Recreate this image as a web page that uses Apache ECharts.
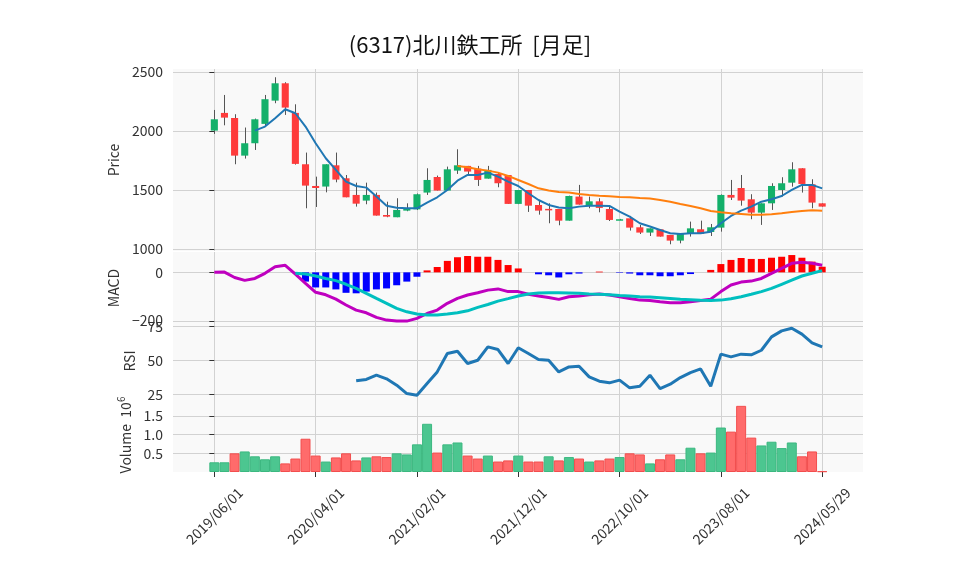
<!DOCTYPE html>
<html>
<head>
<meta charset="utf-8">
<title>(6317)北川鉄工所 [月足]</title>
<script src="https://cdn.jsdelivr.net/npm/echarts@6/dist/echarts.min.js"></script>
<style>
html, body { margin: 0; padding: 0; background: #fff; }
#chart { width: 958px; height: 575px; }
</style>
</head>
<body>
<div id="chart"></div>
<script>
// 月足データ (2019/06 〜 2024/05/29), index 0..60
var tickIndex = [0, 10, 20, 30, 40, 50, 60];
var tickLabels = ['2019/06/01', '2020/04/01', '2021/02/01', '2021/12/01', '2022/10/01', '2023/08/01', '2024/05/29'];

var openP = [2003,2153,2110,1791,1896,2060,2257,2404,2153,1718,
             1534,1529,1709,1599,1458,1410,1458,1288,1269,1325,
             1336,1478,1610,1495,1664,1704,1681,1596,1636,1627,
             1382,1500,1373,1340,1339,1240,1444,1370,1404,1339,
             1248,1260,1184,1139,1167,1119,1071,1127,1167,1144,
             1181,1458,1517,1421,1308,1387,1500,1562,1684,1548,
             1387];
var closeP = [2099,2113,1791,1896,2099,2269,2404,2198,1721,1537,
              1517,1718,1588,1438,1384,1458,1283,1274,1331,1345,
              1464,1585,1495,1675,1709,1656,1585,1670,1557,1382,
              1500,1367,1325,1335,1240,1449,1376,1404,1348,1246,
              1252,1181,1139,1175,1105,1071,1127,1175,1127,1184,
              1458,1435,1410,1308,1387,1534,1557,1675,1551,1393,
              1359];
var lowP = [1975,2048,1718,1766,1839,2050,2235,2136,1715,1345,
            1356,1480,1565,1438,1359,1379,1283,1269,1269,1320,
            1330,1458,1495,1495,1636,1627,1534,1596,1523,1382,
            1380,1314,1291,1218,1201,1240,1376,1345,1311,1237,
            1245,1156,1127,1110,1105,1040,1048,1105,1127,1110,
            1147,1415,1367,1252,1204,1331,1444,1528,1478,1345,
            1359];
var highP = [2178,2305,2142,2029,2105,2305,2455,2413,2226,1817,
             1613,1718,1817,1627,1562,1562,1478,1401,1430,1387,
             1470,1684,1622,1698,1845,1704,1704,1704,1647,1627,
             1500,1500,1415,1387,1339,1452,1543,1444,1430,1359,
             1255,1280,1204,1175,1167,1119,1127,1232,1240,1212,
             1462,1585,1627,1464,1387,1557,1608,1735,1684,1591,
             1387];

var ma5 = [null,null,null,null,2003,2037,2108,2184,2150,2037,
           1896,1769,1670,1571,1534,1520,1444,1367,1350,1345,
           1345,1393,1438,1500,1579,1627,1627,1647,1613,1571,
           1534,1472,1415,1373,1351,1345,1359,1367,1367,1365,
           1317,1274,1218,1190,1161,1133,1127,1133,1133,1147,
           1218,1280,1325,1359,1401,1421,1449,1500,1543,1543,
           1514];
var ma25 = [null,null,null,null,null,null,null,null,null,null,
            null,null,null,null,null,null,null,null,null,null,
            null,null,null,null,1704,1692,1675,1664,1647,1619,
            1585,1551,1514,1495,1483,1478,1466,1458,1452,1447,
            1441,1438,1432,1427,1415,1401,1382,1365,1345,1322,
            1311,1302,1297,1291,1291,1294,1302,1314,1322,1328,
            1325];

var macd = [0,1,-21,-33,-25,-4,23,29,-7,-45,
            -82,-92,-110,-134,-155,-166,-185,-196,-200,-200,
            -189,-169,-155,-127,-107,-93,-84,-73,-68,-79,
            -79,-90,-97,-103,-111,-100,-97,-92,-89,-93,
            -100,-107,-114,-116,-121,-125,-125,-121,-116,-110,
            -79,-52,-40,-36,-25,-4,16,37,41,37,
            29];
var signal = [null,null,null,null,null,null,null,null,-4,-7,
              -15,-25,-34,-49,-66,-86,-107,-127,-148,-162,
              -171,-175,-175,-171,-166,-158,-144,-132,-118,-108,
              -97,-89,-85,-84,-84,-85,-86,-89,-90,-92,
              -95,-97,-100,-101,-104,-107,-110,-112,-115,-116,
              -114,-108,-100,-90,-79,-66,-49,-32,-15,-4,
              7];
var hist = [null,null,null,null,null,null,null,null,-3,-38,
            -62,-62,-70,-84,-86,-79,-70,-66,-53,-38,
            -18,8,22,47,62,67,64,64,51,30,
            16,0,-8,-12,-21,-8,-5,0,3,0,
            -2,-5,-12,-12,-16,-16,-12,-7,0,10,
            34,51,59,55,55,60,64,71,60,44,
            23];

var rsi = [null,null,null,null,null,null,null,null,null,null,
           null,null,null,null,35.0,36.0,39.2,36.5,31.8,25.6,
           24.4,33.0,41.6,55.2,56.9,47.8,50.2,60.1,58.1,47.8,
           59.4,55.2,50.7,50.2,41.6,45.3,45.8,37.9,34.7,33.5,
           35.5,29.8,31.0,39.2,29.3,32.5,37.4,41.1,43.8,31.0,
           54.7,52.7,54.7,54.2,57.6,67.5,71.9,73.9,69.5,63.1,
           60.1];

var volume = [260000,260000,500000,550000,420000,340000,420000,230000,360000,890000,
              440000,280000,390000,500000,310000,390000,420000,400000,500000,470000,
              740000,1290000,520000,740000,790000,440000,360000,440000,280000,310000,
              440000,280000,280000,420000,310000,400000,360000,280000,310000,360000,
              400000,500000,470000,230000,340000,470000,340000,650000,500000,520000,
              1190000,1080000,1770000,920000,710000,810000,640000,790000,420000,550000,
              20000];

var upColor = '#13b06a', downColor = '#fe3b3b';
var textColor = '#333';
var fontName = 'Noto Sans CJK JP';

function pairs(arr) {
    var out = [];
    for (var i = 0; i < arr.length; i++) {
        if (arr[i] != null) out.push([i, arr[i]]);
    }
    return out;
}

var candleData = [];
for (var i = 0; i < closeP.length; i++) {
    candleData.push([i, openP[i], closeP[i], lowP[i], highP[i]]);
}

// 出来高: 前月終値比で色分け
var volData = [];
for (var i = 0; i < volume.length; i++) {
    var up = i === 0 || closeP[i] >= closeP[i - 1];
    volData.push({
        value: [i, volume[i]],
        itemStyle: up ? {color: '#4cc690', borderColor: '#3cb880'} : {color: '#ff6b6b', borderColor: '#f24e4e'}
    });
}

var histData = [];
for (var i = 0; i < hist.length; i++) {
    if (hist[i] == null) continue;
    histData.push({value: [i, hist[i]], itemStyle: {color: hist[i] >= 0 ? '#ff0000' : '#0000ff'}});
}

function renderCandle(params, api) {
    var x = api.value(0);
    var o = api.value(1), c = api.value(2);
    var pH = api.coord([x, api.value(4)]);
    var pL = api.coord([x, api.value(3)]);
    var pO = api.coord([x, o]);
    var pC = api.coord([x, c]);
    var w = api.size([0.7, 0])[0];
    var cx = Math.round(pH[0]) + 0.5;
    var top = Math.min(pO[1], pC[1]);
    var h = Math.max(Math.abs(pO[1] - pC[1]), 1.5);
    return {
        type: 'group',
        children: [
            {type: 'line', shape: {x1: cx, y1: pH[1], x2: cx, y2: pL[1]},
             style: {stroke: '#555', lineWidth: 1}},
            {type: 'rect', shape: {x: pH[0] - w / 2, y: top, width: w, height: h},
             style: {fill: c >= o ? upColor : downColor}}
        ]
    };
}

var xMin = -4.08, xMax = 64.03;
function makeX(gi, bottom) {
    return {
        type: 'value', gridIndex: gi, min: xMin, max: xMax,
        axisLine: {show: false},
        axisTick: {show: bottom, customValues: tickIndex, length: 5, lineStyle: {color: textColor}},
        axisLabel: {
            show: bottom, customValues: tickIndex, rotate: 45, align: 'center', verticalAlign: 'middle',
            margin: 44, fontSize: 14, color: textColor, fontFamily: fontName,
            formatter: function (v) {
                var k = tickIndex.indexOf(Math.round(v));
                return k < 0 ? '' : tickLabels[k];
            }
        },
        splitLine: {show: true, lineStyle: {color: '#d2d2d2', width: 1}}
    };
}

function makeY(gi, min, max, ticks, name, gap, fmt) {
    return {
        type: 'value', gridIndex: gi, min: min, max: max,
        name: name, nameLocation: 'middle', nameGap: gap,
        nameTextStyle: {fontSize: 14, color: textColor, fontFamily: fontName},
        axisLine: {show: false},
        axisTick: {show: true, customValues: ticks, length: 5, lineStyle: {color: textColor}},
        axisLabel: {customValues: ticks, margin: 10, fontSize: 14, color: textColor, fontFamily: fontName,
                    formatter: fmt || function (v) { return String(v); }},
        splitLine: {show: true, lineStyle: {color: '#d2d2d2', width: 1}}
    };
}

var gridBase = {left: 173, width: 690, show: true, backgroundColor: '#f9f9f9', borderWidth: 0};
function grid(top, height) {
    var g = Object.assign({}, gridBase);
    g.top = top;
    g.height = height;
    return g;
}

var myChart = echarts.init(document.getElementById('chart'), null, {renderer: 'canvas'});

var volYAxis = makeY(3, 0, 1980000, [500000, 1000000, 1500000], '{a|Volume  10}{b|6}', 37,
    function (v) { return (v / 1e6).toFixed(1); });
volYAxis.nameTextStyle.rich = {
    a: {fontSize: 14, color: textColor, fontFamily: fontName, lineHeight: 18},
    b: {fontSize: 10, color: textColor, fontFamily: fontName, verticalAlign: 'top', lineHeight: 18}
};

var option = {
    animation: false,
    backgroundColor: '#fff',
    textStyle: {fontFamily: fontName},
    graphic: [{
        type: 'text', x: 470, y: 45,
        style: {text: '(6317)北川鉄工所  [月足]', fontSize: 22, fill: '#111', fontFamily: fontName,
                align: 'center', verticalAlign: 'middle'}
    }],
    grid: [grid(69, 182), grid(252, 72), grid(324, 74), grid(398, 74)],
    xAxis: [makeX(0, false), makeX(1, false), makeX(2, false), makeX(3, true)],
    yAxis: [
        makeY(0, 983, 2525, [1000, 1500, 2000, 2500], 'Price', 50),
        makeY(1, -212, 83.5, [-200, 0], 'MACD', 50,
            function (v) { return v < 0 ? '\u2212' + Math.abs(v) : String(v); }),
        makeY(2, 22.3, 77, [25, 50, 75], 'RSI', 30),
        volYAxis
    ],
    series: [
        {
            name: 'candle', type: 'custom', xAxisIndex: 0, yAxisIndex: 0,
            renderItem: renderCandle, data: candleData,
            encode: {x: 0, y: [1, 2, 3, 4]}, clip: true, z: 3
        },
        {
            name: 'MA5', type: 'line', xAxisIndex: 0, yAxisIndex: 0, data: pairs(ma5),
            showSymbol: false, lineStyle: {color: '#1f77b4', width: 2}, z: 4
        },
        {
            name: 'MA25', type: 'line', xAxisIndex: 0, yAxisIndex: 0, data: pairs(ma25),
            showSymbol: false, lineStyle: {color: '#ff7f0e', width: 2}, z: 4
        },
        {
            name: 'hist', type: 'bar', xAxisIndex: 1, yAxisIndex: 1, data: histData,
            barWidth: 7, z: 2
        },
        {
            name: 'MACD', type: 'line', xAxisIndex: 1, yAxisIndex: 1, data: pairs(macd),
            showSymbol: false, lineStyle: {color: '#bf00bf', width: 3}, z: 4
        },
        {
            name: 'Signal', type: 'line', xAxisIndex: 1, yAxisIndex: 1, data: pairs(signal),
            showSymbol: false, lineStyle: {color: '#00bfbf', width: 3}, z: 4
        },
        {
            name: 'RSI', type: 'line', xAxisIndex: 2, yAxisIndex: 2, data: pairs(rsi),
            showSymbol: false, lineStyle: {color: '#1f77b4', width: 3}, z: 4
        },
        {
            name: 'Volume', type: 'bar', xAxisIndex: 3, yAxisIndex: 3, data: volData,
            barWidth: 10, itemStyle: {borderWidth: 1}, z: 2
        }
    ]
};
myChart.setOption(option);
</script>
</body>
</html>
